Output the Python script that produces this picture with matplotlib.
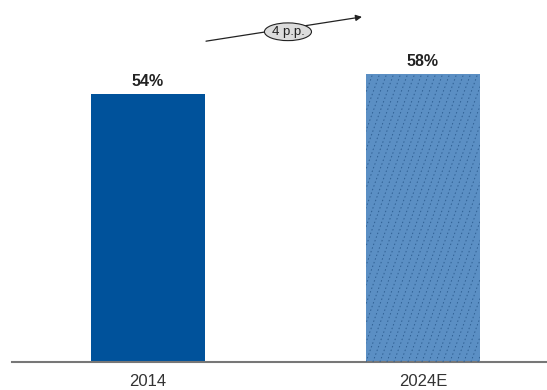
import matplotlib
matplotlib.use("Agg")
import matplotlib.pyplot as plt
import numpy as np

categories = ["2014", "2024E"]
values = [54, 58]
labels = ["54%", "58%"]
change_label = "4 p.p."

plt.rcParams['font.family'] = ['Liberation Sans', 'DejaVu Sans']

fig = plt.figure(figsize=(5.47, 3.90), dpi=100)
ax = fig.add_axes([12/547, 28/390, 535/547, 0.890])

x = list(range(len(categories)))
colors = ["#00529B", "#5B8FC4"]
width = 0.418
bars = ax.bar(x, values, width=width, color=colors, edgecolor="none")

ax.set_xlim(-0.4945, 1.451)
ax.set_ylim(0, 70)

# subtle steep dashed texture on the estimate bar
fig.canvas.draw()
b = bars[1]
px_per_x = ax.transData.transform((1, 0))[0] - ax.transData.transform((0, 0))[0]
px_per_y = ax.transData.transform((0, 1))[1] - ax.transData.transform((0, 0))[1]
h = b.get_height()
dx_total = (h * px_per_y / 2.75) / px_per_x
step = 7 / px_per_x
x0s = np.arange(b.get_x() - dx_total, b.get_x() + b.get_width() + step, step)
for x0 in x0s:
    ln, = ax.plot([x0, x0 + dx_total], [0, h], color="#2f5f92", lw=0.7,
                  linestyle=(0, (1.5, 2.5)), zorder=3)
    ln.set_clip_path(b)

for xi, v, lab in zip(x, values, labels):
    ax.text(xi, v + 1.0, lab, ha="center", va="bottom", fontsize=11.5,
            fontweight="bold", color="#222222")

ax.set_xticks(x)
ax.set_xticklabels(categories, fontsize=12, color="#333333")
ax.tick_params(axis="x", length=0, pad=9)
ax.set_yticks([])
for s in ["top", "right", "left"]:
    ax.spines[s].set_visible(False)
ax.spines["bottom"].set_color("#777777")
ax.spines["bottom"].set_linewidth(1.5)

# change arrow
ax.annotate("", xy=(0.778, 69.6), xytext=(0.211, 64.7),
            arrowprops=dict(arrowstyle="-|>", color="#222222", lw=0.9,
                            mutation_scale=9, shrinkA=0, shrinkB=0),
            annotation_clip=False)
ax.text(0.509, 66.6, change_label, ha="center", va="center", fontsize=9.5,
        color="#222222",
        bbox=dict(boxstyle="ellipse,pad=0.02", fc="#dcdcdc", ec="#222222", lw=0.8),
        clip_on=False, zorder=5)

fig.savefig("out.png", dpi=100)
